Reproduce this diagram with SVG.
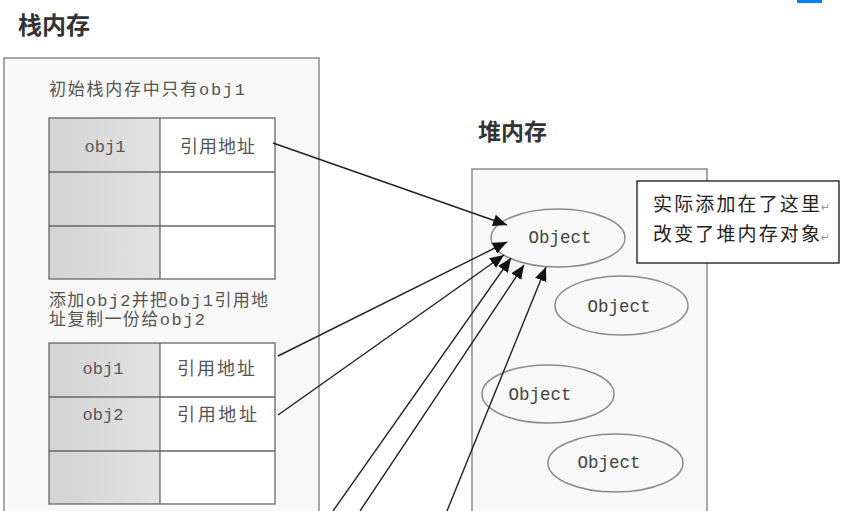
<svg xmlns="http://www.w3.org/2000/svg" width="855" height="511" viewBox="0 0 855 511">
<style>
.title{font-family:"Liberation Sans","Noto Sans CJK SC",sans-serif;font-weight:bold;fill:#333}
.lbl{font-family:"Liberation Mono","Noto Sans CJK SC",monospace;font-size:17px;fill:#555}
.cell{font-family:"Liberation Mono","Noto Sans CJK SC",monospace;font-size:17px;fill:#555;text-anchor:middle}
.cjk{font-family:"Noto Sans CJK SC",sans-serif;font-size:18px;fill:#555}
.box{fill:#f8f8f8;stroke:#7a7a7a;stroke-width:1.3}
.tbl{stroke:#666;stroke-width:1.3}
.ell{fill:#f8f8f8;stroke:#8a8a8a;stroke-width:1.5}
.obj{font-family:"Liberation Mono",monospace;font-size:17.5px;fill:#444;text-anchor:middle}
.note{font-family:"Noto Sans CJK SC",sans-serif;font-size:19px;fill:#222}
.ret{font-family:"DejaVu Sans",sans-serif;font-size:11px;fill:#999}
.arr{stroke:#222;stroke-width:1.4;fill:none;marker-end:url(#ah)}
</style>
<defs>
<linearGradient id="g" x1="0" x2="1" y1="0" y2="0">
<stop offset="0" stop-color="#d3d3d3"/><stop offset="1" stop-color="#e2e2e2"/>
</linearGradient>
<marker id="ah" markerUnits="userSpaceOnUse" markerWidth="15" markerHeight="12" viewBox="0 0 15 12" refX="14" refY="6" orient="auto">
<path d="M0,0 L14,6 L0,12 Z" fill="#111"/>
</marker>
</defs>
<rect width="855" height="511" fill="#ffffff"/>
<rect x="797" y="0" width="25" height="3" fill="#0a7cff"/>

<g id="stack">
<text class="title" x="18" y="34" font-size="24">栈内存</text>
<rect class="box" x="4" y="58" width="315" height="470"/>
<text class="lbl" x="49" y="95" textLength="196" lengthAdjust="spacing">初始栈内存中只有obj1</text>
</g>

<g id="table1">
<rect x="49" y="118" width="111" height="161" fill="url(#g)"/>
<rect x="160" y="118" width="115" height="161" fill="#ffffff"/>
<g class="tbl" fill="none">
<rect x="49" y="118" width="226" height="161"/>
<line x1="160" y1="118" x2="160" y2="279"/>
<line x1="49" y1="172" x2="275" y2="172"/>
<line x1="49" y1="226" x2="275" y2="226"/>
</g>
<text class="cell" x="105" y="152">obj1</text>
<text class="cjk" x="180" y="153" textLength="75" lengthAdjust="spacing">引用地址</text>
</g>

<g id="label2">
<text class="lbl" x="49" y="306" textLength="219" lengthAdjust="spacing">添加obj2并把obj1引用地</text>
<text class="lbl" x="49" y="325" textLength="156" lengthAdjust="spacing">址复制一份给obj2</text>
</g>

<g id="table2">
<rect x="49" y="343" width="111" height="161" fill="url(#g)"/>
<rect x="160" y="343" width="115" height="161" fill="#ffffff"/>
<g class="tbl" fill="none">
<rect x="49" y="343" width="226" height="161"/>
<line x1="160" y1="343" x2="160" y2="504"/>
<line x1="49" y1="397" x2="275" y2="397"/>
<line x1="49" y1="451" x2="275" y2="451"/>
</g>
<text class="cell" x="103" y="374">obj1</text>
<text class="cjk" x="177" y="375" textLength="78" lengthAdjust="spacing">引用地址</text>
<text class="cell" x="103" y="420">obj2</text>
<text class="cjk" x="177" y="421" textLength="80" lengthAdjust="spacing">引用地址</text>
</g>

<g id="heap">
<text class="title" x="478" y="140" font-size="23">堆内存</text>
<rect class="box" x="472" y="169" width="235" height="360"/>
</g>

<g id="obj-a">
<ellipse class="ell" cx="558" cy="238" rx="67" ry="29"/>
<text class="obj" x="560" y="243">Object</text>
</g>
<g id="obj-b">
<ellipse class="ell" cx="621.5" cy="305.5" rx="66.5" ry="29.5"/>
<text class="obj" x="619" y="312">Object</text>
</g>
<g id="obj-c">
<ellipse class="ell" cx="548" cy="394" rx="66" ry="29"/>
<text class="obj" x="540" y="400">Object</text>
</g>
<g id="obj-d">
<ellipse class="ell" cx="615.5" cy="463" rx="67.5" ry="29"/>
<text class="obj" x="609" y="468">Object</text>
</g>

<g id="note">
<rect x="637" y="181" width="202" height="82" fill="#ffffff" stroke="#333" stroke-width="1.5"/>
<text class="note" x="653" y="211" textLength="167" lengthAdjust="spacing">实际添加在了这里</text>
<text class="ret" x="821" y="211">↵</text>
<text class="note" x="653" y="241" textLength="167" lengthAdjust="spacing">改变了堆内存对象</text>
<text class="ret" x="821" y="241">↵</text>
</g>

<g id="connectors">
<line class="arr" x1="273" y1="143" x2="507" y2="225"/>
<line class="arr" x1="278" y1="356" x2="507" y2="242"/>
<line class="arr" x1="278" y1="415" x2="504" y2="255"/>
<line class="arr" x1="333" y1="511" x2="511" y2="258"/>
<line class="arr" x1="360" y1="511" x2="524" y2="265"/>
<line class="arr" x1="447" y1="511" x2="546" y2="267"/>
</g>
</svg>
